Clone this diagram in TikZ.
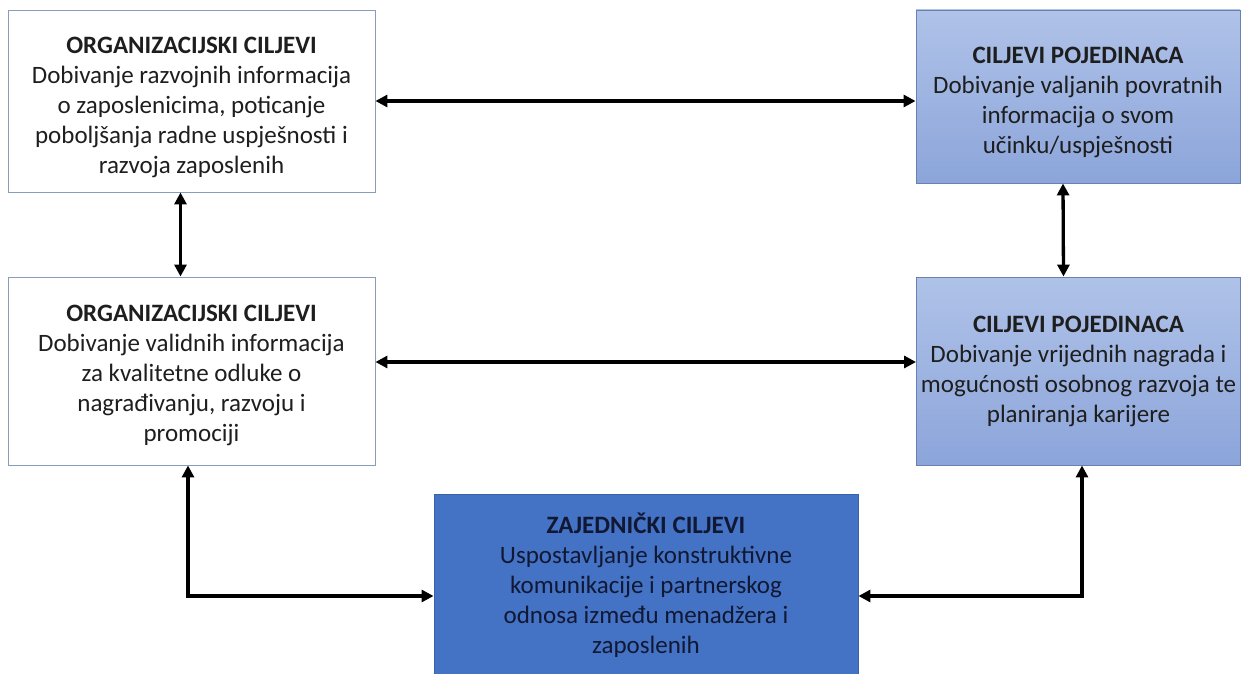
\documentclass[tikz,border=0pt]{standalone}
\usepackage{fontspec}
\setmainfont{Carlito}
\usetikzlibrary{arrows.meta}
\definecolor{txt}{HTML}{1E1E1E}
\definecolor{wborder}{HTML}{8A9CBB}
\definecolor{lbtop}{HTML}{AFC2E8}
\definecolor{lbbot}{HTML}{8CA5DA}
\definecolor{lbborder}{HTML}{6A80B2}
\definecolor{dblue}{HTML}{4472C4}
\definecolor{dbborder}{HTML}{3A62AA}
\definecolor{dtxt}{HTML}{111833}
\tikzset{
  box/.style={rectangle, inner sep=0pt, line width=0.9pt},
  whitebox/.style={box, draw=wborder, fill=white},
  lightbox/.style={box, draw=lbborder, top color=lbtop, bottom color=lbbot},
  darkbox/.style={box, draw=dbborder, fill=dblue},
  label text/.style={inner sep=0pt, align=center, text=txt,
    font=\fontsize{25}{30}\selectfont},
  arr/.style={line width=3.3pt, {Triangle[length=12pt,width=12pt]}-{Triangle[length=12pt,width=12pt]}}
}
\begin{document}
\begin{tikzpicture}[x=1pt,y=-1pt]
\useasboundingbox (0,0) rectangle (1248,674);
\clip (0,0) rectangle (1248,674);
\fill[white] (0,0) rectangle (1248,674);
\node[whitebox, minimum width=367pt, minimum height=182pt] (A) at (191.5,101) {};
\node[label text] (At) at ([yshift=-6pt]A.center)
  {\textbf{ORGANIZACIJSKI CILJEVI}\\Dobivanje razvojnih informacija\\o zaposlenicima, poticanje\\poboljšanja radne uspješnosti i\\razvoja zaposlenih};
\node[lightbox, minimum width=324pt, minimum height=173pt] (B) at (1078,96.5) {};
\node[label text] (Bt) at ([yshift=-6pt]B.center)
  {\textbf{CILJEVI POJEDINACA}\\Dobivanje valjanih povratnih\\informacija o svom\\učinku/uspješnosti};
\node[whitebox, minimum width=367pt, minimum height=188pt] (C) at (191.5,371) {};
\node[label text] (Ct) at ([yshift=-4pt]C.center)
  {\textbf{ORGANIZACIJSKI CILJEVI}\\Dobivanje validnih informacija\\za kvalitetne odluke o\\nagrađivanju, razvoju i\\promociji};
\node[lightbox, minimum width=324pt, minimum height=188pt] (D) at (1078.5,371) {};
\node[label text] (Dt) at (D.center)
  {\textbf{CILJEVI POJEDINACA}\\Dobivanje vrijednih nagrada i\\mogućnosti osobnog razvoja te\\planiranja karijere};
\node[darkbox, minimum width=424pt, minimum height=182pt] (E) at (646,585) {};
\node[label text, text=dtxt] (Et) at (E.center)
  {\textbf{ZAJEDNIČKI CILJEVI}\\Uspostavljanje konstruktivne\\komunikacije i partnerskog\\odnosa između menadžera i\\zaposlenih};
\draw[arr] (A.east) -- (A.east -| B.west);
\draw[arr] ([xshift=-11pt]A.south) -- ([xshift=-11pt]C.north);
\draw[arr] ([xshift=-15pt]B.south) -- ([xshift=-15pt]D.north);
\draw[arr] ([yshift=9pt]C.east) -- ([yshift=9pt]C.east -| D.west);
\draw[arr] ([xshift=-3.5pt]C.south) |- ([yshift=-11pt]E.west);
\draw[arr] ([xshift=3.5pt]D.south) |- ([yshift=-11pt]E.east);
\end{tikzpicture}
\end{document}
